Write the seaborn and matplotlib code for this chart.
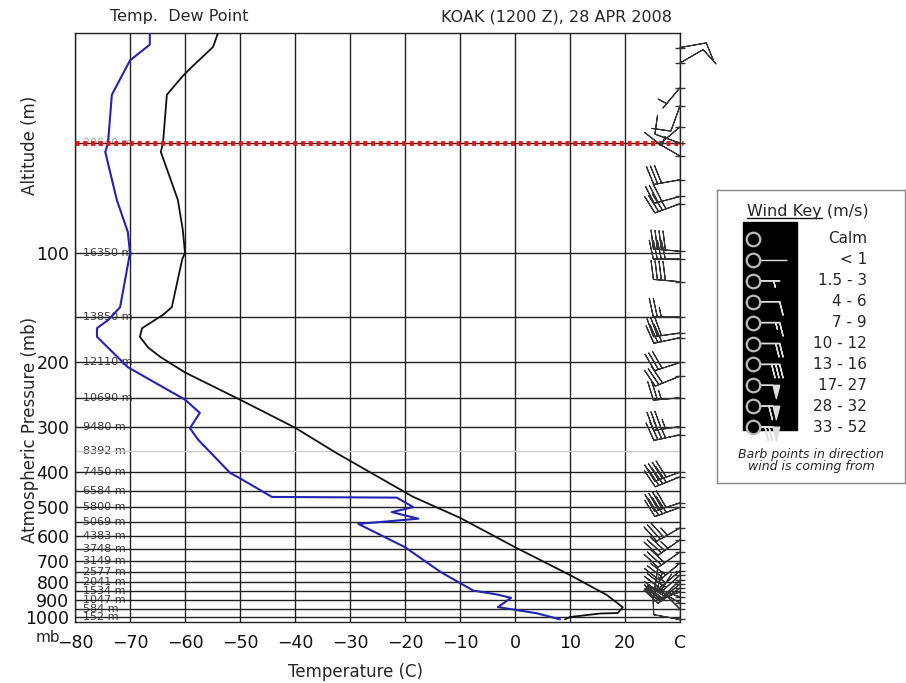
'''
KOAK sounding, 28 APR 2008 (1200 Z)
temperature / dew point profiles on a log-pressure chart,
with wind barbs on the right edge and a wind key box.
'''

import numpy as np
import pandas as pd
import seaborn as sns
import matplotlib.pyplot as plt
from matplotlib.patches import Rectangle

sns.set_theme(style="white")
plt.rcParams['font.family'] = ['DejaVu Sans']

# temperature profile (mb, C)
temp_p = [1015, 1000, 978, 975, 940, 870, 767, 643, 534, 470, 468, 355, 302, 253,
          213, 193, 182, 170, 161, 148, 141, 104, 100, 86.5, 71.5, 52.8, 50, 36.8,
          32.8, 30.8, 27.2, 24.9]
temp_c = [9.1, 10.0, 15.5, 18.7, 19.6, 16.7, 10.0, 0.0, -10.0, -18.2, -18.5, -32.4,
          -40.0, -50.0, -60.0, -64.5, -66.7, -68.2, -67.8, -64.0, -62.4, -60.5, -60.0,
          -60.4, -61.3, -64.4, -64.0, -63.3, -60.5, -58.7, -54.9, -54.0]

# dew point profile (mb, C)
dew_p = [1015, 977, 939, 886, 867, 846, 751, 643, 555, 537, 515, 499, 470, 468, 416,
         402, 326, 303, 275, 253, 206, 170, 161, 153, 141, 100, 87.6, 71.5, 52.8, 50,
         36.8, 29.6, 26.8, 24.9]
dew_c = [8.2, 4.0, -3.1, -0.7, -3.3, -7.6, -13.6, -20.0, -28.5, -17.6, -22.4, -18.5,
         -21.5, -44.2, -50.0, -51.8, -57.6, -59.1, -57.3, -60.0, -70.4, -76.0, -76.0,
         -74.0, -71.8, -70.0, -70.4, -72.4, -74.5, -74.0, -73.3, -70.0, -66.4, -66.4]

# height labels on the pressure levels
level_p = [50, 100, 150, 200, 250, 300, 350, 400, 450, 500, 550, 600, 650, 700, 750,
           800, 850, 900, 950, 1000]
level_lbl = ['20640 m', '16350 m', '13850 m', '12110 m', '10690 m', '9480 m', '8392 m',
             '7450 m', '6584 m', '5800 m', '5069 m', '4383 m', '3748 m', '3149 m',
             '2577 m', '2041 m', '1534 m', '1047 m', '584 m', '152 m']

# winds (mb, direction the wind comes from in deg, speed in knots)
wind_p = [27.3, 30.1, 35.2, 39.5, 45.1, 50, 54.2, 63, 70, 73.3, 99, 104, 120, 150, 166,
          171, 200, 218, 250, 300, 316, 400, 412, 486, 500, 569, 614, 663, 711, 747,
          767, 791, 811, 832, 853, 881, 915, 951, 1015]
wind_dir = [80, 60, 220, 200, 230, 290, 300, 260, 255, 250, 275, 270, 275, 270, 262,
            258, 252, 248, 265, 262, 258, 250, 248, 252, 250, 240, 235, 235, 230, 230,
            228, 225, 230, 235, 250, 290, 300, 315, 280]
wind_spd = [10, 10, 5, 10, 10, 10, 5, 30, 30, 35, 40, 40, 40, 25, 30, 30, 30, 30, 25,
            35, 35, 40, 40, 40, 40, 35, 35, 30, 30, 25, 25, 20, 20, 20, 15, 10, 10, 10,
            10]

# wind key
key_labels = ['Calm', '< 1', '1.5 - 3', '4 - 6', '7 - 9', '10 - 12', '13 - 16',
              '17- 27', '28 - 32', '33 - 52']
key_speeds = [0, 1, 5, 10, 15, 20, 30, 50, 60, 70]

temp_ticks = list(range(-80, 31, 10))
temp_tick_lbl = [str(t).replace('-', '\u2212') for t in temp_ticks[:-1]] + ['C']
p_ticks = [100, 200, 300, 400, 500, 600, 700, 800, 900, 1000]

temp_df = pd.DataFrame({'pressure': temp_p, 'temp': temp_c})
dew_df = pd.DataFrame({'pressure': dew_p, 'temp': dew_c})

fig = plt.figure(figsize=(9.06, 6.83), dpi=100)
ax = fig.add_axes([75 / 906, 1 - 622 / 683, 605 / 906, 589 / 683])

ax.set_yscale('log')
ax.set_xlim(-80, 30)
ax.set_ylim(1032, 24.9)

# grid
ax.vlines(temp_ticks, 1032, 24.9, color='#222222', lw=1.0, zorder=2)
grid_col = ['#cccccc' if p == 350 else '#222222' for p in level_p]
ax.hlines(level_p, -80, 30, colors=grid_col, lw=1.0, zorder=2)
ax.axhline(50, xmin=0, xmax=1.005, color='#ee1111', lw=3.5, ls=(0, (0.8, 0.8)),
           zorder=4, clip_on=False)

# altitude labels, under the grid lines (crowded near the ground, as in the source)
for p, lbl in zip(level_p, level_lbl):
    ax.text(-78.6, p, lbl, fontsize=8, color='#9a9a9a' if p == 50 else '#3a3a3a',
            va='center', ha='left', zorder=1)

# profiles
sns.lineplot(data=dew_df, x='temp', y='pressure', sort=False, estimator=None,
             color='#2424b4', lw=1.5, ax=ax, zorder=3)
sns.lineplot(data=temp_df, x='temp', y='pressure', sort=False, estimator=None,
             color='#111111', lw=1.3, ax=ax, zorder=3)

# wind barbs on the right edge
barb_sizes = dict(height=0.7, spacing=0.15, width=0.3)
wd = np.deg2rad(wind_dir)
u = -np.array(wind_spd) * np.sin(wd)
v = -np.array(wind_spd) * np.cos(wd)
ax.barbs(np.full(len(wind_p), 30.0), wind_p, u, v, length=6.2, lw=0.8,
         sizes=barb_sizes, color='#333333', clip_on=False, zorder=5)
ax.scatter(np.full(len(wind_p), 30.0), wind_p, marker='_', s=60, color='#333333',
           lw=1, clip_on=False, zorder=5)

ax.set_xticks(temp_ticks)
ax.set_xticklabels(temp_tick_lbl)
ax.set_yticks(p_ticks)
ax.set_yticklabels([str(p) for p in p_ticks])
ax.minorticks_off()
ax.tick_params(axis='both', length=0, labelsize=12.5, colors='#111111')
ax.tick_params(axis='x', pad=9)
ax.tick_params(axis='y', pad=4)
ax.set_xlabel('')
ax.set_ylabel('')
for s in ax.spines.values():
    s.set_color('#222222')
    s.set_linewidth(1.0)

fig.text(60 / 906, 1 - 637 / 683, 'mb', fontsize=11, ha='right', va='center')
fig.text(355 / 906, 1 - 672 / 683, 'Temperature (C)', fontsize=12, ha='center',
         va='center')
fig.text(30 / 906, 1 - 430 / 683, 'Atmospheric Pressure (mb)', fontsize=12,
         rotation=90, ha='center', va='center')
fig.text(30 / 906, 1 - 145 / 683, 'Altitude (m)', fontsize=12, rotation=90,
         ha='center', va='center')
fig.text(110 / 906, 1 - 17 / 683, 'Temp.  Dew Point', fontsize=11.5, ha='left',
         va='center')
fig.text(672 / 906, 1 - 17 / 683, 'KOAK (1200 Z), 28 APR 2008', fontsize=11.5,
         ha='right', va='center')

### wind key box
kx = fig.add_axes([717 / 906, 1 - 483 / 683, 188 / 906, 293 / 683])
kx.set_xlim(0, 188)
kx.set_ylim(11.67, -2.34)
kx.set_xticks([])
kx.set_yticks([])
for s in kx.spines.values():
    s.set_color('#888888')
    s.set_linewidth(1.0)

rows = np.arange(len(key_labels))
kx.add_patch(Rectangle((26, -0.81), 54, 9.95, color='black', zorder=1))
kx.text(30, -1.29, 'Wind Key (m/s)', fontsize=11.5, ha='left', va='center')
kx.plot([30, 105], [-0.98, -0.98], color='#111111', lw=1)

bars = [i for i, s in enumerate(key_speeds) if s >= 5]
kx.barbs(np.full(len(bars), 36.0), rows[bars], [-key_speeds[i] for i in bars],
         np.zeros(len(bars)), length=6.2, lw=1, sizes=dict(height=0.5, spacing=0.15),
         color='#dddddd', zorder=2)
kx.hlines(rows[1], 36, 70, color='#dddddd', lw=1, zorder=2)
kx.scatter(np.full(len(rows), 36.0), rows, s=95, facecolor='black',
           edgecolor='#bbbbbb', lw=1.6, zorder=3)

for r, lbl in zip(rows, key_labels):
    kx.text(150, r, lbl, fontsize=11, ha='right', va='center')

kx.text(94, 10.29, 'Barb points in direction', fontsize=9, style='italic',
        ha='center', va='center')
kx.text(94, 10.9, 'wind is coming from', fontsize=9, style='italic',
        ha='center', va='center')

plt.savefig('out.png', dpi=100)
plt.close()
